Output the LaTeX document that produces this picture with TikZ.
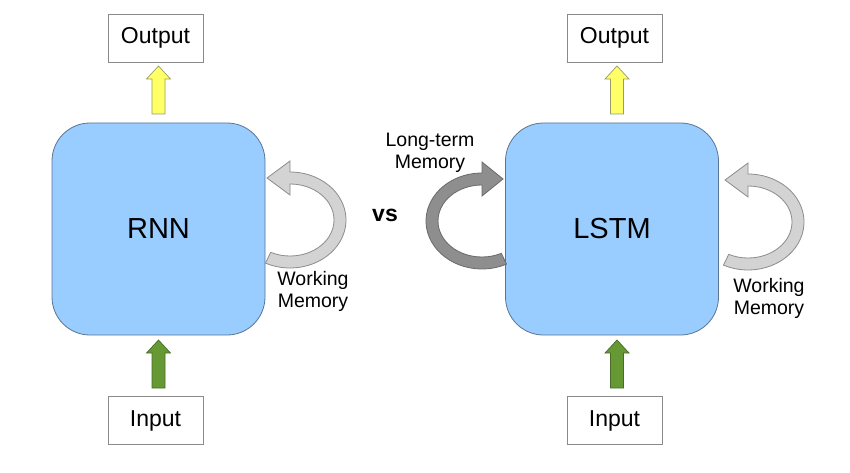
\documentclass[tikz,border=0pt]{standalone}
\usepackage{fontspec}
\setmainfont{Liberation Sans}
\begin{document}
\begin{tikzpicture}[x=1pt,y=1pt,
  cell/.style={draw=boxline,fill=cellblue,rounded corners=38pt,minimum width=213pt,minimum height=212pt,inner sep=0pt,line width=0.8pt,font=\fontsize{29}{32}\selectfont},
  iobox/.style={draw=iogray,fill=white,minimum width=95pt,minimum height=48pt,inner sep=0pt,line width=0.8pt,font=\fontsize{23}{26}\selectfont},
  lbl/.style={align=center,font=\fontsize{19.5}{22}\selectfont,inner sep=0pt},
  yarrow/.style={draw=yline,fill=yfill,line width=0.7pt,line join=miter},
  garrow/.style={draw=gline,fill=gfill,line width=0.7pt,line join=miter},
  wmem/.style={draw=lgline,fill=lgfill,line width=0.8pt,line join=miter},
  ltmem/.style={draw=dgline,fill=dgfill,line width=0.8pt,line join=miter}]
\definecolor{cellblue}{HTML}{99CCFF}
\definecolor{boxline}{HTML}{5B7593}
\definecolor{iogray}{HTML}{8A8A8A}
\definecolor{yfill}{HTML}{FFFF66}
\definecolor{yline}{HTML}{9A9A6A}
\definecolor{gfill}{HTML}{669933}
\definecolor{gline}{HTML}{4A6B2A}
\definecolor{lgfill}{HTML}{D3D3D3}
\definecolor{lgline}{HTML}{8C8C8C}
\definecolor{dgfill}{HTML}{8E8E8E}
\definecolor{dgline}{HTML}{6A6A6A}
\useasboundingbox[fill=white] (0,0) rectangle (850,472);

% ---- RNN ----
\node[cell] (rnn) at (158.5,243) {RNN};
\node[iobox] (rout) at (155.5,434) {Output};
\node[iobox] (rin) at (155.5,51.5) {Input};
% yellow arrow
\begin{scope}[shift={(158.5,358)}]
\draw[yarrow] (-6.5,0) -- (-6.5,35) -- (-12,35) -- (0,48) -- (12,35) -- (6.5,35) -- (6.5,0) -- cycle;
\end{scope}
% green arrow
\begin{scope}[shift={(158.5,84)}]
\draw[garrow] (-6.5,0) -- (-6.5,35) -- (-12,35) -- (0,48) -- (12,35) -- (6.5,35) -- (6.5,0) -- cycle;
\end{scope}
% working memory arrow
\begin{scope}[shift={(290,252)}]
\draw[wmem] (-116:56 and 48) arc[start angle=-116,end angle=90,x radius=56,y radius=48]
  -- (0,59) -- (-23,42) -- (0,25) -- (0,36)
  arc[start angle=90,end angle=-116,x radius=44,y radius=36] -- cycle;
\end{scope}
\node[lbl] (rwm) at (313,181) {Working\\Memory};

% ---- vs ----
\node[font=\bfseries\fontsize{23}{26}\selectfont,inner sep=0pt] (vs) at (385,257) {vs};

% ---- LSTM ----
\node[cell] (lstm) at (612,243) {LSTM};
\node[iobox] (lout) at (614.5,434) {Output};
\node[iobox] (lin) at (614.5,51.5) {Input};
\begin{scope}[shift={(617,358)}]
\draw[yarrow] (-6.5,0) -- (-6.5,35) -- (-12,35) -- (0,48) -- (12,35) -- (6.5,35) -- (6.5,0) -- cycle;
\end{scope}
\begin{scope}[shift={(617,84)}]
\draw[garrow] (-6.5,0) -- (-6.5,35) -- (-12,35) -- (0,48) -- (12,35) -- (6.5,35) -- (6.5,0) -- cycle;
\end{scope}
% working memory arrow (LSTM)
\begin{scope}[shift={(748,250)}]
\draw[wmem] (-116:56 and 48) arc[start angle=-116,end angle=90,x radius=56,y radius=48]
  -- (0,59) -- (-23,42) -- (0,25) -- (0,36)
  arc[start angle=90,end angle=-116,x radius=44,y radius=36] -- cycle;
\end{scope}
\node[lbl] (lwm) at (769,174) {Working\\Memory};
% long-term memory arrow
\begin{scope}[shift={(482,251)}]
\draw[ltmem] (296:56 and 48) arc[start angle=296,end angle=90,x radius=56,y radius=48]
  -- (0,59) -- (21,42) -- (0,25) -- (0,36)
  arc[start angle=90,end angle=296,x radius=44,y radius=36] -- cycle;
\end{scope}
\node[lbl] (ltm) at (430,319) {Long-term\\Memory};
\end{tikzpicture}
\end{document}
